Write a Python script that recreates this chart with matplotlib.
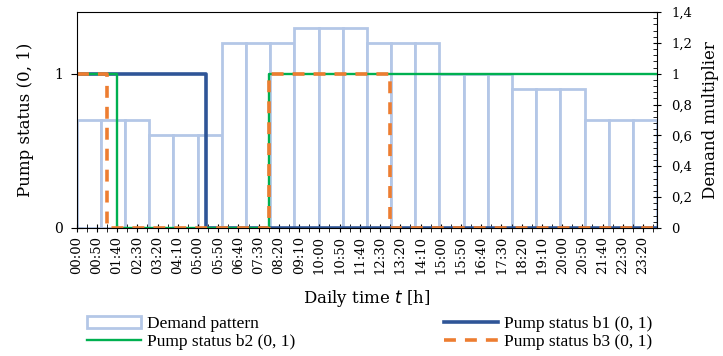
import matplotlib
matplotlib.use('Agg')
import matplotlib.pyplot as plt
from matplotlib.ticker import MultipleLocator

# hourly demand multipliers
hours = list(range(24))
demand = [0.7, 0.7, 0.7, 0.6, 0.6, 0.6, 1.2, 1.2, 1.2, 1.3, 1.3, 1.3,
          1.2, 1.2, 1.2, 1.0, 1.0, 1.0, 0.9, 0.9, 0.9, 0.7, 0.7, 0.7]

# pump status switching points (minutes of the day, state after switch)
b1_t = [0, 320, 1435]
b1_s = [1, 0, 0]
b2_t = [0, 100, 475, 1435]
b2_s = [1, 0, 1, 1]
b3_t = [0, 75, 475, 775, 1435]
b3_s = [1, 0, 1, 0, 0]

tick_min = list(range(0, 1401, 50))
tick_labels = ['00:00', '00:50', '01:40', '02:30', '03:20', '04:10', '05:00',
               '05:50', '06:40', '07:30', '08:20', '09:10', '10:00', '10:50',
               '11:40', '12:30', '13:20', '14:10', '15:00', '15:50', '16:40',
               '17:30', '18:20', '19:10', '20:00', '20:50', '21:40', '22:30',
               '23:20']
right_ticks = [0, 0.2, 0.4, 0.6, 0.8, 1.0, 1.2, 1.4]
right_labels = ['0', '0,2', '0,4', '0,6', '0,8', '1', '1,2', '1,4']

c_dem = '#B4C7E7'
c_b1 = '#2F5597'
c_b2 = '#00B050'
c_b3 = '#ED7D31'

plt.rcParams['font.family'] = 'DejaVu Serif'

fig = plt.figure(figsize=(7.23, 3.56), dpi=100)
pos = [0.106, 0.36, 0.803, 0.606]

# demand pattern on its own axes (right scale)
axd = fig.add_axes(pos)
bars = axd.bar(hours, demand, width=1, align='edge', facecolor='white',
               edgecolor=c_dem, linewidth=2, label='Demand pattern')
axd.set_xlim(0, 24)
axd.set_ylim(0, 1.4)
axd.set_xticks([])
axd.yaxis.tick_right()
axd.yaxis.set_label_position('right')
axd.set_yticks(right_ticks)
axd.set_yticklabels(right_labels, fontsize=9.5)
axd.yaxis.set_minor_locator(MultipleLocator(0.04))
axd.tick_params(axis='y', which='major', direction='inout', length=6, pad=7)
axd.tick_params(axis='y', which='minor', direction='in', length=3)
axd.set_ylabel('Demand multiplier', fontsize=12, labelpad=7)
for s in ['left', 'top', 'bottom']:
    axd.spines[s].set_visible(False)

# pump status lines
ax = fig.add_axes(pos)
ax.patch.set_visible(False)
l1, = ax.step(b1_t, b1_s, where='post', color=c_b1, lw=2.6,
              label='Pump status b1 (0, 1)')
l2, = ax.step(b2_t, b2_s, where='post', color=c_b2, lw=1.7,
              label='Pump status b2 (0, 1)')
l3, = ax.step(b3_t, b3_s, where='post', color=c_b3, lw=2.6,
              dashes=(3.3, 2.5), label='Pump status b3 (0, 1)')
ax.set_xlim(0, 1435)
ax.set_ylim(0, 1.4)
ax.set_yticks([0, 1])
ax.set_yticklabels(['0', '1'], fontsize=10)
ax.set_xticks(tick_min)
ax.set_xticklabels(tick_labels, rotation=90, fontsize=9.5)
ax.xaxis.set_minor_locator(MultipleLocator(25))
ax.tick_params(axis='x', which='both', direction='inout', length=6, pad=3)
ax.tick_params(axis='y', direction='inout', length=8, pad=6)
ax.spines['right'].set_visible(False)
ax.set_ylabel('Pump status (0, 1)', fontsize=12, labelpad=14)
ax.set_xlabel('Daily time $t$ [h]', fontsize=12, labelpad=10)

fig.legend([bars, l2, l1, l3],
           ['Demand pattern', 'Pump status b2 (0, 1)',
            'Pump status b1 (0, 1)', 'Pump status b3 (0, 1)'],
           ncol=2, loc='upper left', bbox_to_anchor=(0.108, 0.137),
           frameon=False, borderpad=0, handlelength=3.1, handletextpad=0.35,
           columnspacing=8.6, labelspacing=0.12,
           prop={'family': 'Liberation Serif', 'size': 12.5})

fig.savefig('out.png', dpi=100)
